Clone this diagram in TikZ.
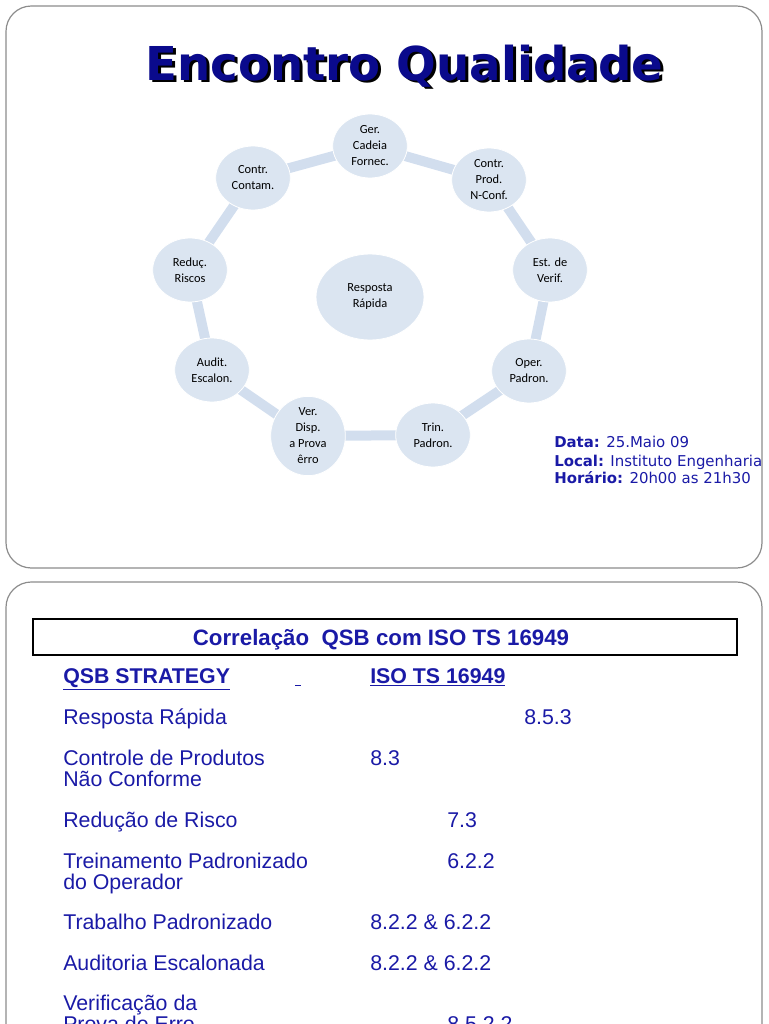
\documentclass[tikz,border=0pt]{standalone}
\usepackage{fontspec}
\setmainfont{Liberation Sans}
\newfontfamily\dejavu{DejaVu Sans}
\newfontfamily\carlito{Carlito}
\usetikzlibrary{shapes.geometric,backgrounds}
\definecolor{navy}{HTML}{0A0A8C}
\definecolor{txtblue}{HTML}{1A1AA6}
\definecolor{cfill}{HTML}{DBE5F1}
\definecolor{cline}{HTML}{D2DEEE}
\definecolor{panelgray}{HTML}{8C8C8C}
\begin{document}
\begin{tikzpicture}[x=0.75pt,y=-0.75pt,
  panel/.style={draw=panelgray,line width=0.9pt,rounded corners=19pt},
  circ/.style={ellipse,fill=cfill,draw=white,line width=0.6pt,inner sep=0pt,minimum width=56pt,minimum height=48pt,align=center,font=\carlito\fontsize{9.3}{12}\selectfont},
  link/.style={draw=cline,line width=7.5pt,shorten <=-3pt,shorten >=-3pt},
  row/.style={anchor=base west,text=txtblue,font=\fontsize{16}{16}\selectfont,inner sep=0pt},
  rowb/.style={row,font=\bfseries\fontsize{16}{16}\selectfont},
  info/.style={anchor=base west,text=txtblue,font=\dejavu\fontsize{11.2}{11.2}\selectfont,inner sep=0pt},
]
\useasboundingbox (0,0) rectangle (768,1024);
\clip (0,0) rectangle (768,1024);
% panels
\draw[panel] (6,6) rectangle (762,568);
\draw[panel] (6,582) rectangle (762,1120);
% title
\node[anchor=base west,inner sep=0pt,text=black,font=\dejavu\bfseries\fontsize{35}{35}\selectfont] (titleshadow) at (148,83) {Encontro Qualidade};
\node[anchor=base west,inner sep=0pt,text=navy,font=\dejavu\bfseries\fontsize{35}{35}\selectfont] (title) at (145,80) {Encontro Qualidade};
% circles
\node[circ] (ger) at (370,146) {Ger.\\Cadeia\\Fornec.};
\node[circ] (cp) at (489,180) {Contr.\\Prod.\\N-Conf.};
\node[circ] (ev) at (550,270) {Est. de\\Verif.};
\node[circ] (op) at (529,371) {Oper.\\Padron.};
\node[circ] (tp) at (433,435) {Trin.\\Padron.};
\node[circ] (vd) at (308,436) {Ver.\\Disp.\\a Prova\\êrro};
\node[circ] (au) at (212,370) {Audit.\\Escalon.};
\node[circ] (rr) at (190,270) {Reduç.\\Riscos};
\node[circ] (cc) at (253,178) {Contr.\\Contam.};
\node[circ,minimum width=81pt,minimum height=64.5pt] (rsp) at (370,297) {Resposta\\Rápida};
\begin{scope}[on background layer]
\draw[link] (ger) -- (cp);
\draw[link] (cp) -- (ev);
\draw[link] (ev) -- (op);
\draw[link] (op) -- (tp);
\draw[link] (tp) -- (vd);
\draw[link] (vd) -- (au);
\draw[link] (au) -- (rr);
\draw[link] (rr) -- (cc);
\draw[link] (cc) -- (ger);
\end{scope}
% info
\node[info] (data) at (554,447) {\textbf{Data:} 25.Maio 09};
\node[info] (local) at (554,466) {\textbf{Local:} Instituto Engenharia};
\node[info] (hora) at (554,483) {\textbf{Horário:} 20h00 as 21h30};
% bottom panel
\node[draw=black,line width=2.2pt,minimum width=528pt,minimum height=27pt,inner sep=0pt] (tbox) at (385,637) {};
\node[anchor=base,inner sep=0pt,text=txtblue,font=\bfseries\fontsize{16.7}{16.7}\selectfont] (ttext) at (381,645) {Correlação\ \ QSB com ISO TS 16949};
\node[rowb] (h1) at (63,683.5) {\underline{QSB STRATEGY}};
\node[rowb] (hgap) at (295,683.5) {\underline{\ }};
\node[rowb] (h2) at (370,683.5) {\underline{ISO TS 16949}};
\node[row] (r1) at (63,724.5) {Resposta Rápida};
\node[row] (v1) at (524,724.5) {8.5.3};
\node[row] (r2a) at (63,765.5) {Controle de Produtos};
\node[row] (r2b) at (63,786.5) {Não Conforme};
\node[row] (v2) at (370,765.5) {8.3};
\node[row] (r3) at (63,827.5) {Redução de Risco};
\node[row] (v3) at (447,827.5) {7.3};
\node[row] (r4a) at (63,868.5) {Treinamento Padronizado};
\node[row] (r4b) at (63,889.5) {do Operador};
\node[row] (v4) at (447,868.5) {6.2.2};
\node[row] (r5) at (63,929.5) {Trabalho Padronizado};
\node[row] (v5) at (370,929.5) {8.2.2 \& 6.2.2};
\node[row] (r6) at (63,970.5) {Auditoria Escalonada};
\node[row] (v6) at (370,970.5) {8.2.2 \& 6.2.2};
\node[row] (r7a) at (63,1010.5) {Verificação da};
\node[row] (r7b) at (63,1031.5) {Prova de Erro};
\node[row] (v7) at (447,1031.5) {8.5.2.2};
\end{tikzpicture}
\end{document}
